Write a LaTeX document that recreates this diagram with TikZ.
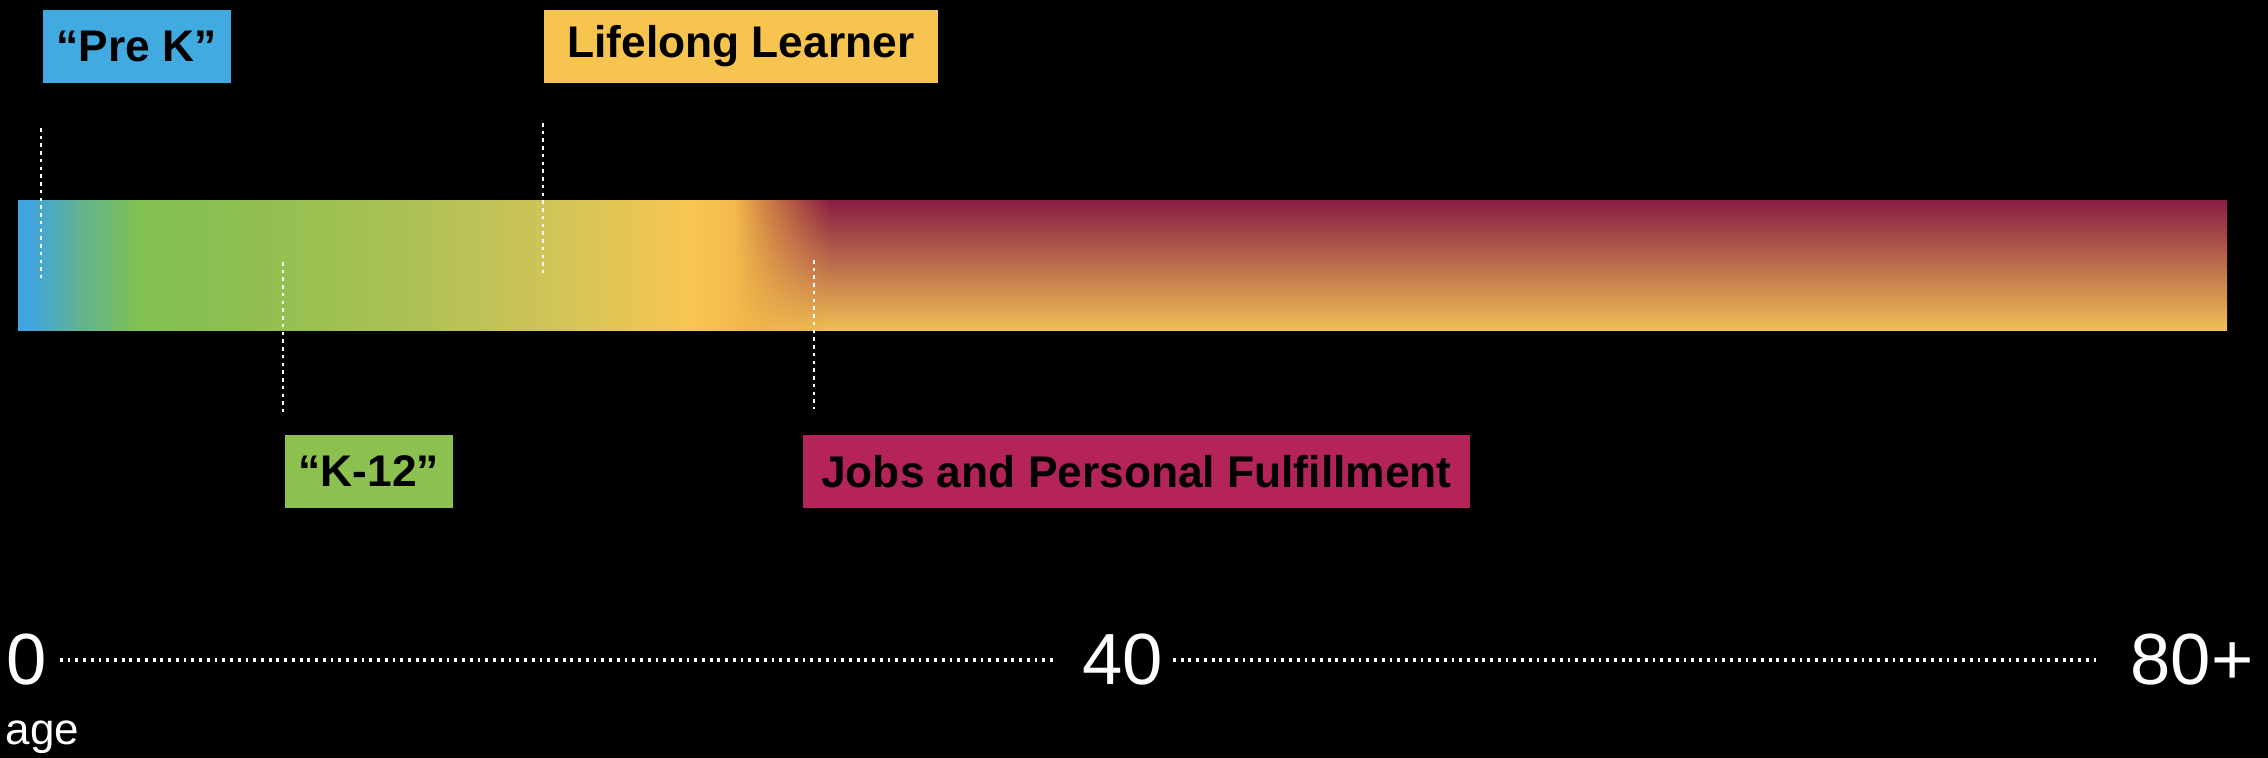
\documentclass[tikz,border=0pt]{standalone}
\usepackage{fontspec}
\setmainfont{Liberation Sans}
\usetikzlibrary{fadings}

\definecolor{prekblue}{RGB}{65,170,225}
\definecolor{kgreen}{RGB}{140,193,80}
\definecolor{lifeyellow}{RGB}{247,196,80}
\definecolor{jobsred}{RGB}{180,35,90}

\definecolor{bar0}{RGB}{64,164,222}
\definecolor{bar1}{RGB}{95,178,150}
\definecolor{bar2}{RGB}{128,192,84}
\definecolor{bar3}{RGB}{146,191,80}
\definecolor{bar4}{RGB}{174,193,86}
\definecolor{bar5}{RGB}{212,196,88}
\definecolor{bar6}{RGB}{248,198,82}
\definecolor{bar7}{RGB}{240,178,72}
\definecolor{bar8}{RGB}{232,160,70}

\definecolor{worktop}{RGB}{138,30,68}
\definecolor{workmid}{RGB}{190,112,68}
\definecolor{workbot}{RGB}{240,193,85}

\tikzfading[name=fade in right, left color=transparent!100, right color=transparent!0]

\tikzset{
  tag/.style={fill=#1, text=black, inner sep=0pt, minimum height=0.73cm,
    font=\bfseries\fontsize{12.6}{14}\selectfont},
  leader/.style={draw=white, line width=0.8pt, dash pattern=on 1pt off 1.2pt},
  axisdots/.style={draw=white, line width=0.9pt, dash pattern=on 0.8pt off 1.4pt},
  axisnum/.style={text=white, inner sep=0pt, font=\fontsize{20.6}{24}\selectfont}
}

\begin{document}
\begin{tikzpicture}[x=0.01cm, y=-0.01cm]
    \useasboundingbox (0,0) rectangle (2268,758);
    \fill[black] (0,0) rectangle (2268,758);

    % bar, left part
    \foreach \xa/\xb/\ca/\cb in {18/30/bar0/bar0, 30/75/bar0/bar1, 75/135/bar1/bar2,
        135/260/bar2/bar3, 260/420/bar3/bar4, 420/560/bar4/bar5, 560/690/bar5/bar6,
        690/760/bar6/bar7, 760/830/bar7/bar8}
      \shade[left color=\ca, right color=\cb] (\xa,201) rectangle (\xb+1,331);

    % bar, right part
    \shade[top color=worktop, middle color=workmid, bottom color=workbot,
      path fading=fade in right] (735,201) rectangle (831,331);
    \shade[top color=worktop, middle color=workmid, bottom color=workbot]
      (830,201) rectangle (2227,331);

    % boxes
    \node(prek) [tag=prekblue, minimum width=1.88cm, anchor=north west] at (42,9)    {``Pre K''};
    \node(life) [tag=lifeyellow, minimum width=3.94cm, anchor=north west] at (543,9) {Lifelong Learner};
    \node(k12)  [tag=kgreen, minimum width=1.68cm, anchor=north west] at (284,434)   {``K-12''};
    \node(jobs) [tag=jobsred, minimum width=6.67cm, anchor=north west] at (802,434)  {Jobs and Personal Fulfillment};

    % leader ends
    \coordinate(prekA) at (41,128);
    \coordinate(prekB) at (41,278);
    \coordinate(lifeA) at (543,123);
    \coordinate(lifeB) at (543,273);
    \coordinate(k12A)  at (283,262);
    \coordinate(k12B)  at (283,412);
    \coordinate(jobsA) at (814,260);
    \coordinate(jobsB) at (814,409);

    % axis
    \node(zero)   [axisnum, anchor=base] at (27,685)   {0};
    \node(forty)  [axisnum, anchor=base] at (1123,685) {40};
    \node(eighty) [axisnum, anchor=base] at (2192,685) {80+};
    \node(age)    [text=white, inner sep=0pt, anchor=base west,
      font=\fontsize{12.5}{14}\selectfont] at (5,745) {age};

    %%%%% Lines %%%%%
    \draw[leader](prekA) -- (prekB);
    \draw[leader](lifeA) -- (lifeB);
    \draw[leader](k12A) -- (k12B);
    \draw[leader](jobsA) -- (jobsB);

    \draw[axisdots, shorten <=0.12cm, shorten >=0.26cm](zero.east) -- (forty.west);
    \draw[axisdots, shorten <=0.09cm, shorten >=0.34cm](forty.east) -- (eighty.west);

  \end{tikzpicture}
\end{document}
